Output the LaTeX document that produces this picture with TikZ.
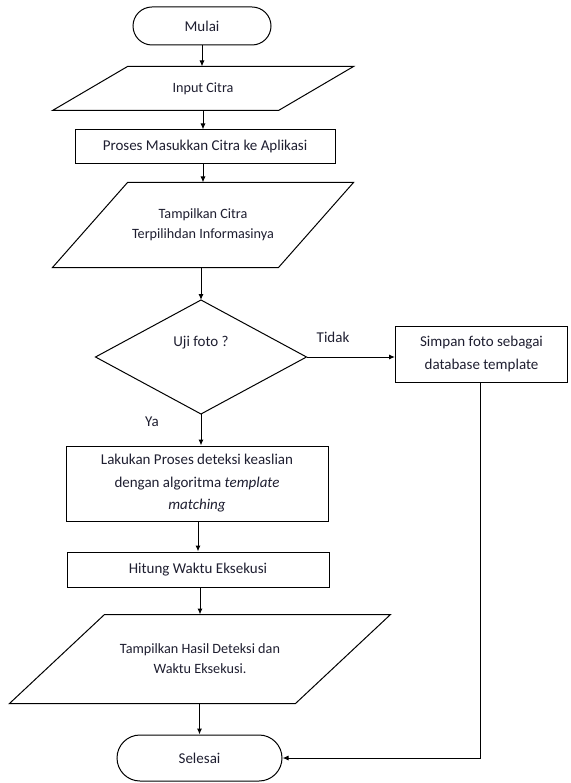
\documentclass[tikz,border=0pt]{standalone}
\usepackage{fontspec}
\setmainfont{Carlito}
\usetikzlibrary{arrows.meta,shapes.misc}
\definecolor{ink}{RGB}{30,30,48}
% outline of an input/output parallelogram around a text node
\newcommand\ioframe[2]{%
  \draw ([xshift=#2]#1.north west) -- ([xshift=#2]#1.north east)
     -- ([xshift=-#2]#1.south east) -- ([xshift=-#2]#1.south west) -- cycle;}
\begin{document}
\begin{tikzpicture}[x=1pt,y=-1pt,line width=1pt,
  every node/.style={text=ink,align=center,inner sep=0pt},
  big/.style={font=\fontsize{15}{22.5}\selectfont},
  small/.style={font=\fontsize{14.2}{19.8}\selectfont},
  term/.style={draw,rounded rectangle,big},
  procbox/.style={draw,rectangle,big},
  iotext/.style={small},
  flow/.style={-{Latex[length=6pt,width=5pt]}}]
\useasboundingbox (0,0) rectangle (570,783);

% terminators
\node[term,minimum width=138,minimum height=38] (mulai) at (202,26) {Mulai};
\node[term,minimum width=165,minimum height=46] (selesai) at (199.5,758) {Selesai};

% input / output
\node[iotext,minimum width=225,minimum height=43] (input) at (203,88.5) {Input Citra};
\ioframe{input}{37.5}
\node[iotext,minimum width=225,minimum height=84] (tampil) at (203,225)
  {Tampilkan Citra\\Terpilihdan Informasinya};
\ioframe{tampil}{37.5}
\node[iotext,minimum width=285,minimum height=88] (hasil) at (200,659)
  {Tampilkan Hasil Deteksi dan\\Waktu Eksekusi.};
\ioframe{hasil}{47.5}

% processes
\node[procbox,minimum width=260,minimum height=34] (proses) at (205,147)
  {Proses Masukkan Citra ke Aplikasi};
\node[procbox,minimum width=262,minimum height=75] (deteksi) at (197,483.5)
  {Lakukan Proses deteksi keaslian\\dengan algoritma \textit{template}\\\textit{matching}};
\node[procbox,minimum width=262,minimum height=35] (hitung) at (198,569.5)
  {Hitung Waktu Eksekusi};
\node[procbox,minimum width=172,minimum height=56] (simpan) at (481.5,354)
  {Simpan foto sebagai\\database template};

% decision
\node[minimum width=210,minimum height=113] (uji) at (201,357) {};
\draw (uji.north) -- (uji.east) -- (uji.south) -- (uji.west) -- cycle;
\node[big] (ujitext) at (201,343) {Uji foto ?};

% connectors
\draw[flow] (mulai.south) -- (mulai.south |- input.north);
\draw[flow] (input.south) -- (input.south |- proses.north);
\draw[flow] (proses.south -| input.south) -- (input.south |- tampil.north);
\draw[flow] (tampil.south -| uji.north) -- (uji.north);
\draw[flow] (uji.south) -- (uji.south |- deteksi.north);
\draw[flow] (deteksi.south -| hitung.north) -- (hitung.north);
\draw[flow] (hitung.south -| hasil.north) -- (hasil.north);
\draw[flow] (hasil.south -| selesai.north) -- (selesai.north);
\draw[flow] (uji.east) -- (uji.east -| simpan.west)
  node[pos=0.3,above=14pt,big] (tidak) {Tidak};
\coordinate (turn) at (480,758);
\draw[flow] (simpan.south -| turn) -- (turn) -- (selesai.east);
\node[big] (ya) at (152,422) {Ya};
\end{tikzpicture}
\end{document}
